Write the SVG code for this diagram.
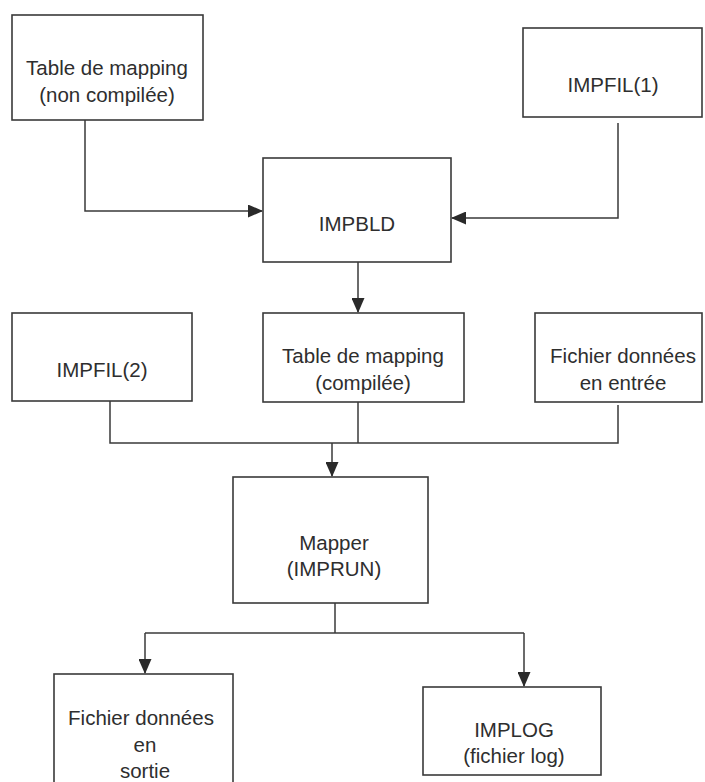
<svg xmlns="http://www.w3.org/2000/svg" width="705" height="782" viewBox="0 0 705 782">
<defs>
<style>
.box{fill:#fff;stroke:#3a3a3a;stroke-width:1.6}
.con{fill:none;stroke:#3a3a3a;stroke-width:1.5}
text{font-family:"Liberation Sans",Arial,sans-serif;font-size:20.5px;fill:#2e2e2e;text-anchor:middle}
</style>
<marker id="ah" markerWidth="15" markerHeight="13" refX="14" refY="6.5" orient="auto" markerUnits="userSpaceOnUse">
<path d="M0,0 L15,6.5 L0,13 Z" fill="#2a2a2a"/>
</marker>
</defs>
<rect width="705" height="782" fill="#fff"/>
<g id="connectors">
<path class="con" d="M85,120 V211 H262" marker-end="url(#ah)"/>
<path class="con" d="M618,123 V218 H452" marker-end="url(#ah)"/>
<path class="con" d="M358,262 V312" marker-end="url(#ah)"/>
<path class="con" d="M110,401 V443 H618 V405"/>
<path class="con" d="M358,402 V443"/>
<path class="con" d="M332,443 V476" marker-end="url(#ah)"/>
<path class="con" d="M335,603 V633"/>
<path class="con" d="M145,633 H524"/>
<path class="con" d="M145,633 V673" marker-end="url(#ah)"/>
<path class="con" d="M524,633 V686" marker-end="url(#ah)"/>
</g>
<g id="table-non-compilee">
<rect class="box" x="12" y="15" width="191" height="105"/>
<text x="107" y="75">Table de mapping</text>
<text x="107" y="102">(non compilée)</text>
</g>
<g id="impfil1">
<rect class="box" x="523" y="28" width="179" height="89"/>
<text x="613" y="92">IMPFIL(1)</text>
</g>
<g id="impbld">
<rect class="box" x="263" y="158" width="188" height="104"/>
<text x="357" y="231">IMPBLD</text>
</g>
<g id="impfil2">
<rect class="box" x="12" y="313" width="180" height="88"/>
<text x="102" y="377">IMPFIL(2)</text>
</g>
<g id="table-compilee">
<rect class="box" x="263" y="313" width="201" height="89"/>
<text x="363" y="363">Table de mapping</text>
<text x="363" y="390">(compilée)</text>
</g>
<g id="fichier-entree">
<rect class="box" x="535" y="313" width="167" height="89"/>
<text x="623" y="363">Fichier données</text>
<text x="623" y="390">en entrée</text>
</g>
<g id="mapper">
<rect class="box" x="233" y="477" width="195" height="126"/>
<text x="334" y="550">Mapper</text>
<text x="334" y="576">(IMPRUN)</text>
</g>
<g id="fichier-sortie">
<rect class="box" x="54" y="674" width="179" height="120"/>
<text x="141" y="725">Fichier données</text>
<text x="145" y="752">en</text>
<text x="145" y="778">sortie</text>
</g>
<g id="implog">
<rect class="box" x="423" y="687" width="178" height="88"/>
<text x="514" y="737">IMPLOG</text>
<text x="514" y="763">(fichier log)</text>
</g>
</svg>
